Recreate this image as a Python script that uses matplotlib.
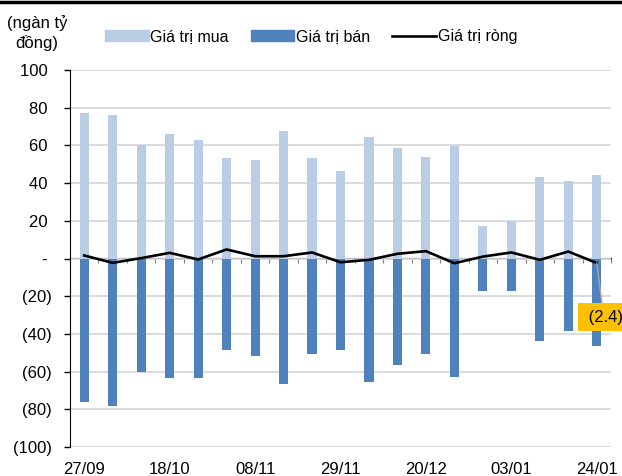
import numpy as np
import matplotlib
matplotlib.use("Agg")
import matplotlib.pyplot as plt
from matplotlib.lines import Line2D
from matplotlib.patches import Patch

plt.rcParams['font.family'] = ['Liberation Sans', 'DejaVu Sans']

# Weekly foreign trading values (ngàn tỷ đồng)
dates = ["27/09", "04/10", "11/10", "18/10", "25/10", "01/11", "08/11",
         "15/11", "22/11", "29/11", "06/12", "13/12", "20/12", "27/12",
         "31/12", "03/01", "10/01", "17/01", "24/01"]
buy_values = [77.1, 76.0, 60.2, 66.0, 62.8, 53.3, 52.4, 67.4, 53.4, 46.4,
              64.6, 58.7, 54.1, 59.8, 17.5, 20.0, 43.0, 41.3, 44.3]
sell_values = [-76.2, -78.3, -60.4, -63.4, -63.4, -48.8, -51.6, -66.4, -50.7,
               -48.4, -65.5, -56.5, -50.5, -62.7, -17.5, -17.2, -43.7, -38.2,
               -46.6]
net_values = [1.6, -2.3, 0.2, 3.0, -0.5, 4.8, 1.2, 1.2, 3.2, -2.0, -0.7,
              2.5, 3.9, -2.5, 1.0, 3.2, -0.7, 3.7, -2.4]
y_ticks = list(range(-100, 101, 20))

light_blue = "#B9CDE5"
dark_blue = "#4F81BD"

fig = plt.figure(figsize=(6.22, 4.76), dpi=100)
ax = fig.add_axes([70 / 622, 1 - 447 / 476, 541 / 622, 377 / 476])

x = np.arange(len(dates))
ax.bar(x, buy_values, width=0.32, color=light_blue, zorder=2)
ax.bar(x, sell_values, width=0.32, color=dark_blue, zorder=2)
ax.plot(x, net_values, color="black", lw=1.9, zorder=4)

ax.set_xlim(-0.5, len(dates) - 0.5)
ax.set_ylim(-100, 100)

# y axis with accounting style labels
def fmt(v):
    if v > 0:
        return f"{v} "
    if v == 0:
        return "- "
    return f"({-v})"

ax.set_yticks(y_ticks)
ax.set_yticklabels([fmt(v) for v in y_ticks])
ax.tick_params(axis="y", direction="out", length=4.3, width=1, color="black",
               pad=8.5, labelsize=12)
ax.yaxis.grid(True, color="#D9D9D9", lw=1.3, zorder=0)
ax.set_axisbelow(True)

# x labels every 3rd week, placed at bottom
ax.set_xticks(x[::3])
ax.set_xticklabels(dates[::3])
ax.tick_params(axis="x", length=0, pad=11, labelsize=12)

for side in ["top", "right", "bottom"]:
    ax.spines[side].set_visible(False)
ax.spines["left"].set_color("black")

# category axis line at zero with inward ticks between weeks
sec = ax.secondary_xaxis(0.5)
sec.set_xticks(np.arange(-0.5, len(dates), 1))
sec.tick_params(axis="x", direction="in", length=3.6, color="#7F7F7F",
                labelbottom=False, labeltop=False)
sec.spines["bottom"].set_color("#7F7F7F")

# callout for last net value
ax.annotate(" (2.4)", xy=(x[-1], net_values[-1]), xytext=(-9, -39),
            textcoords="offset points", ha="left", va="center", fontsize=12,
            bbox=dict(boxstyle="square,pad=0.4", fc="#FFC000", ec="none"),
            arrowprops=dict(arrowstyle="-", color="#A6A6A6", lw=1,
                            shrinkA=0, shrinkB=0),
            annotation_clip=False, zorder=6)

# legend
handles = [Patch(color=light_blue, label="Giá trị mua"),
           Patch(color=dark_blue, label="Giá trị bán"),
           Line2D([], [], color="black", lw=1.9, label="Giá trị ròng")]
fig.legend(handles=handles, ncol=3, loc="center",
           bbox_to_anchor=(311 / 622, 1 - 37 / 476), frameon=False,
           fontsize=11.5, handlelength=2.75, handleheight=0.68,
           handletextpad=0.12, columnspacing=1.35)

# unit label
fig.text(37 / 622, 1 - 33 / 476, "(ngàn tỷ\nđồng)", ha="center",
         va="center", fontsize=12, linespacing=1.3)

# top border
fig.add_artist(Line2D([0, 1], [1 - 1.5 / 476] * 2, transform=fig.transFigure,
                      color="black", lw=2.5))

fig.savefig("out.png", dpi=100)
